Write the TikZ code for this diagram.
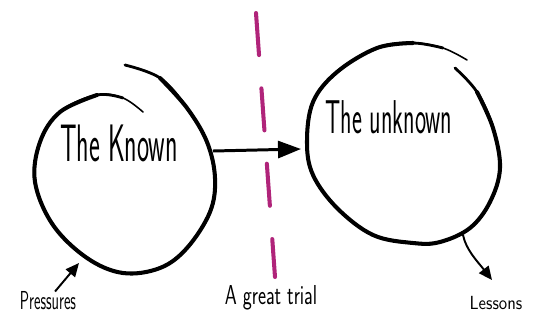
\documentclass[tikz,border=0pt]{standalone}
\usepackage{xcolor}
\usepackage{tikz}
\usetikzlibrary{arrows.meta}
\definecolor{trialpink}{RGB}{176,36,122}
\newcommand{\squeeze}[2]{\scalebox{#1}[1]{#2}}

\begin{document}
\begin{tikzpicture}[x=0.02cm, y=-0.02cm,
  loopline/.style={line width=2.3pt, line cap=round},
  loopmid/.style={line width=1.6pt, line cap=round},
  loopend/.style={line width=0.9pt, line cap=round},
  conn/.style={line width=1.7pt, -{Triangle[length=0.46cm, width=0.34cm]}},
  thinconn/.style={line width=1.1pt, -{Triangle[length=0.27cm, width=0.24cm]}},
  hand/.style={inner sep=0pt, font=\sffamily}]
\useasboundingbox (0,0) rectangle (538,322);
% the known
\draw[loopend] plot[smooth, tension=0.6] coordinates {(125,65) (160,78) (187,108) (207,142) (215,178) (210,212) (187,248) (160,268) (123,273) (87,258) (53,225) (35,182) (40,142) (60,112) (97,95) (123,98) (143,112)};
\draw[loopmid] plot[smooth, tension=0.6] coordinates {(125,65) (160,78) (187,108) (207,142) (215,178) (210,212) (187,248) (160,268) (123,273) (87,258) (53,225) (35,182) (40,142) (60,112) (97,95) (123,98)};
\draw[loopline] plot[smooth, tension=0.6] coordinates {(160,78) (187,108) (207,142) (215,178) (210,212) (187,248) (160,268) (123,273) (87,258) (53,225) (35,182) (40,142) (60,112) (97,95)};
\node[hand] (known) at (119,143) {\fontsize{30}{30}\selectfont\squeeze{0.49}{The Known}};
% the unknown
\draw[loopend] plot[smooth, tension=0.6] coordinates {(455,68) (477,92) (493,128) (500,168) (490,202) (470,228) (440,242) (413,243) (373,235) (337,208) (313,175) (307,142) (313,102) (337,72) (377,48) (413,43) (443,48) (467,60)};
\draw[loopmid] plot[smooth, tension=0.6] coordinates {(455,68) (477,92) (493,128) (500,168) (490,202) (470,228) (440,242) (413,243) (373,235) (337,208) (313,175) (307,142) (313,102) (337,72) (377,48) (413,43) (443,48)};
\draw[loopline] plot[smooth, tension=0.6] coordinates {(477,92) (493,128) (500,168) (490,202) (470,228) (440,242) (413,243) (373,235) (337,208) (313,175) (307,142) (313,102) (337,72) (377,48) (413,43)};
\node[hand] (unknown) at (389,117) {\fontsize{27}{27}\selectfont\squeeze{0.5}{The unknown}};
% the line between them
\draw[trialpink, line width=2.3pt, line cap=round, dash pattern=on 24pt off 19pt] (256,13) -- (275,277);
\node[hand] (trial) at (271,298) {\fontsize{15.6}{15.6}\selectfont\squeeze{0.7}{A great trial}};
% connectors
\coordinate (knownE) at (213,151);
\coordinate (unknownW) at (301,149);
\draw[conn] (knownE) -- (unknownW);
\node[hand] (pressures) at (48,301) {\fontsize{14.8}{14.8}\selectfont\squeeze{0.57}{Pressures}};
\coordinate (pressTip) at (79,263);
\draw[thinconn] ([xshift=4]pressures.north) -- (pressTip);
\node[hand] (lessons) at (496,303) {\fontsize{10.8}{10.8}\selectfont\squeeze{0.88}{Lessons}};
\coordinate (unknownS) at (463,235);
\coordinate (lessTip) at (492,280);
\draw[thinconn] (unknownS) .. controls (466,250) and (478,262) .. (lessTip);
\end{tikzpicture}
\end{document}
